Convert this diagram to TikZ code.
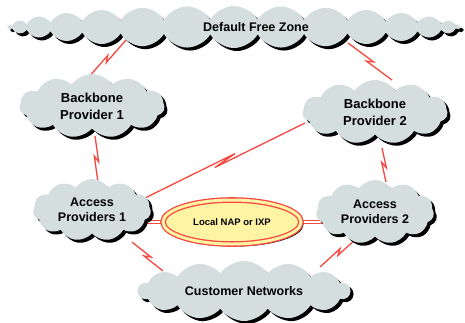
\documentclass[tikz,border=0pt]{standalone}
\usepackage{fontspec}
\setmainfont{Liberation Sans}
\usetikzlibrary{shapes.symbols,shapes.geometric,shadows,calc,backgrounds}
\definecolor{cloudgray}{RGB}{212,222,222}
\definecolor{linkred}{RGB}{246,72,64}
\definecolor{napyellow}{RGB}{255,244,164}
\tikzset{
  net/.style={cloud, cloud ignores aspect, cloud puffs=#1, cloud puff arc=110,
    fill=cloudgray, align=center, inner sep=0pt,
    drop shadow={shadow xshift=3pt, shadow yshift=-3pt, fill=black, opacity=1},
    font=\bfseries\fontsize{12.5}{15}\selectfont},
  net/.default=11,
  link/.style={draw=linkred, line width=1.3pt},
  bolt/.style={link, to path={
    -- ($(\tikztostart)!.5!(\tikztotarget)!#1!(\tikztotarget)!2pt!90:(\tikztotarget)$)
    -- ($(\tikztostart)!.5!(\tikztotarget)!-#1!(\tikztotarget)!2pt!-90:(\tikztotarget)$)
    -- (\tikztotarget) \tikztonodes}},
  bolt/.default=3pt,
  peer/.style={draw=linkred, line width=1pt, double=white, double distance=2pt}
}

\begin{document}
\begin{tikzpicture}[x=1pt,y=-1pt]
\useasboundingbox (0,0) rectangle (465,322);
\node[net=30, cloud puff arc=120, minimum width=452pt, minimum height=42pt] (dfz) at (234,27) {\hspace*{44pt}Default Free Zone};
\node[net, minimum width=145pt, minimum height=64pt, font=\bfseries\fontsize{13}{17}\selectfont] (bb1) at (92,106) {Backbone\\Provider 1};
\node[net, minimum width=145pt, minimum height=64pt, font=\bfseries\fontsize{13}{17}\selectfont] (bb2) at (375,112) {Backbone\\Provider 2};
\node[net, minimum width=118pt, minimum height=62pt] (ap1) at (92,210) {Access\\Providers 1};
\node[net, minimum width=118pt, minimum height=64pt] (ap2) at (375,212) {Access\\Providers 2};
\node[net=14, minimum width=212pt, minimum height=60pt] (cust) at (244,291) {Customer Networks};
\node[ellipse, minimum width=138pt, minimum height=44pt, fill=napyellow, draw=linkred,
  line width=1.3pt, double=napyellow, double distance=3pt,
  drop shadow={shadow xshift=2.5pt, shadow yshift=-2.5pt, fill=black, opacity=1},
  font=\bfseries\fontsize{9.5}{11}\selectfont] (nap) at (232,222) {Local NAP or IXP};
%%%%%%%%%%%%%%%
\begin{scope}[on background layer]
\draw[bolt] ($(dfz)+(-108,13)$) to ($(bb1)+(-4,-28)$);
\draw[bolt] ($(dfz)+(114,16)$) to ($(bb2)+(17,-32)$);
\draw[bolt] ($(bb1)+(3,30)$) to ($(ap1)+(6,-28)$);
\draw[bolt] ($(bb2)+(7,36)$) to ($(ap2)+(11,-30)$);
\draw[bolt=12pt] ($(bb2)+(-70,11)$) to ($(ap1)+(53,-12)$);
\draw[bolt] ($(ap1)+(40,32)$) to ($(cust)+(-81,-20)$);
\draw[bolt] ($(ap2)+(-17,25)$) to ($(cust)+(76,-24)$);
\draw[peer] ($(ap1)+(40,12)$) -- (nap);
\draw[peer] (nap) -- ($(ap2)+(-40,10)$);
\end{scope}
\end{tikzpicture}
\end{document}
